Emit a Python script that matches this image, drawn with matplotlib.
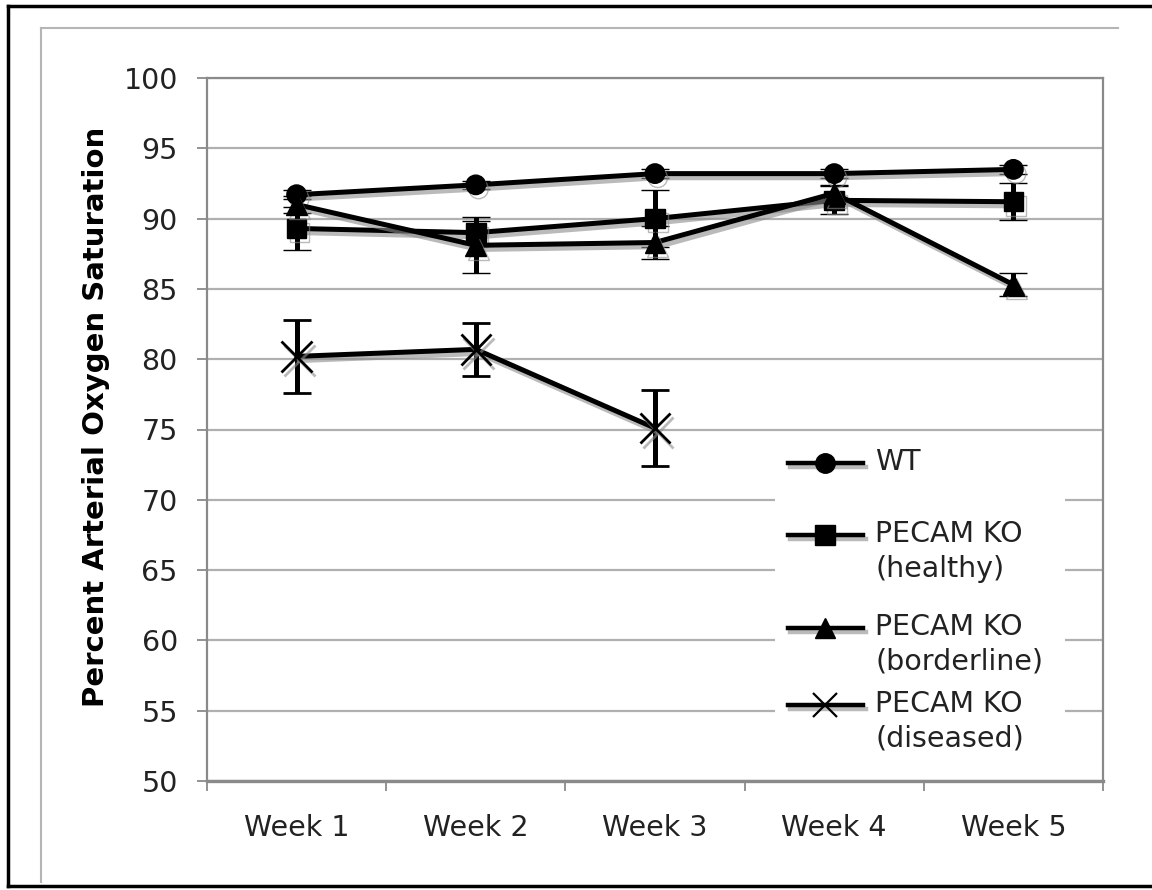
import numpy as np
import matplotlib
matplotlib.use("Agg")
import matplotlib.pyplot as plt
import matplotlib.patheffects as pe
from matplotlib.lines import Line2D
from matplotlib.patches import Rectangle

# values
weeks = ["Week 1", "Week 2", "Week 3", "Week 4", "Week 5"]
wt = [91.7, 92.4, 93.2, 93.2, 93.5]
wt_err = [0.3, 0.3, 0.3, 0.3, 0.3]
healthy = [89.3, 89.0, 90.0, 91.3, 91.2]
healthy_err = [1.5, 0.8, 2.0, 1.0, 1.3]
borderline = [91.0, 88.1, 88.3, 91.8, 85.3]
borderline_err = [0.6, 2.0, 1.2, 0.6, 0.8]
diseased = [80.2, 80.7, 75.1, np.nan, np.nan]
diseased_err = [2.6, 1.9, 2.7, np.nan, np.nan]

labels = ["WT", "PECAM KO\n(healthy)", "PECAM KO\n(borderline)", "PECAM KO\n(diseased)"]
markers = ["o", "s", "^", "x"]
msizes = [14, 14, 15, 22]
yticks = [50, 55, 60, 65, 70, 75, 80, 85, 90, 95, 100]

FS = 20.5
plt.rcParams['font.family'] = ['DejaVu Sans']

W, H = 1152, 890
fig = plt.figure(figsize=(W / 100, H / 100), dpi=100)

# outer black frame and inner gray frame
def px(x, y):
    return x / W, 1 - y / H

for (x0, y0), (x1, y1) in [((8, 6), (8, 886)), ((8, 6), (1152, 6)), ((8, 886), (1152, 886))]:
    a, b = px(x0, y0)
    c, d = px(x1, y1)
    fig.add_artist(Line2D([a, c], [b, d], color="black", lw=2.5))
for (x0, y0), (x1, y1) in [((41, 28), (41, 882)), ((41, 28), (1118, 28))]:
    a, b = px(x0, y0)
    c, d = px(x1, y1)
    fig.add_artist(Line2D([a, c], [b, d], color="#b5b5b5", lw=1.5))

left, right, top, bottom = 207, 1103, 78, 781
ax = fig.add_axes([left / W, 1 - bottom / H, (right - left) / W, (bottom - top) / H])

x = np.arange(len(weeks))
shadow = [pe.SimpleLineShadow(offset=(2, -3), shadow_color="0.55", alpha=0.6), pe.Normal()]

series = [wt, healthy, borderline, diseased]
errors = [wt_err, healthy_err, borderline_err, diseased_err]
for vals, err, m, ms in zip(series, errors, markers, msizes):
    cont = ax.errorbar(x, vals, yerr=err, color="black", lw=3.6, marker=m, ms=ms,
                       mew=2 if m == "x" else 1, elinewidth=3.6, capsize=10, capthick=4,
                       zorder=3)
    cont[0].set_path_effects(shadow)

ax.set_xlim(-0.5, len(weeks) - 0.5)
ax.set_ylim(50, 100)
ax.set_yticks(yticks)
ax.set_yticklabels([str(v) for v in yticks], fontsize=FS, color="#222222")
ax.set_xticks(x)
ax.set_xticklabels(weeks, fontsize=FS, color="#222222")
ax.set_xticks(np.arange(-0.5, len(weeks)), minor=True)
ax.tick_params(axis="x", which="major", length=0, pad=24)
ax.tick_params(axis="x", which="minor", length=7, width=1.2, color="#808080", direction="out")
ax.tick_params(axis="y", length=7, width=1.2, color="#808080", pad=14)
ax.grid(axis="y", color="#b0b0b0", lw=1.6, zorder=0)
ax.set_axisbelow(True)
for s in ax.spines.values():
    s.set_color("#8a8a8a")
    s.set_linewidth(1.6)
ax.spines["bottom"].set_linewidth(2.4)

ax.set_ylabel("Percent Arterial Oxygen Saturation", fontsize=21, fontweight="bold")
ax.yaxis.set_label_coords(-0.108, 0.518)

# legend box drawn by hand so the key sits on the first text line
ax.add_patch(Rectangle((0.634, 0.016), 0.324, 0.48, transform=ax.transAxes,
                       facecolor="white", edgecolor="none", zorder=4))
entry_y = [0.452, 0.350, 0.218, 0.108]
for lab, m, ms, yy in zip(labels, markers, msizes, entry_y):
    ln = Line2D([0.648, 0.732], [yy, yy], transform=ax.transAxes, color="black", lw=3.2, zorder=5)
    ln.set_path_effects(shadow)
    ax.add_line(ln)
    ax.add_line(Line2D([0.690], [yy], transform=ax.transAxes, color="black", marker=m,
                       ms=ms if m != "x" else 17, mew=1.6 if m == "x" else 1, zorder=6))
    ax.text(0.746, yy + 0.021, lab, transform=ax.transAxes, fontsize=FS, va="top", ha="left",
            linespacing=1.3, color="#222222", zorder=6)

fig.savefig("out.png", dpi=100)
